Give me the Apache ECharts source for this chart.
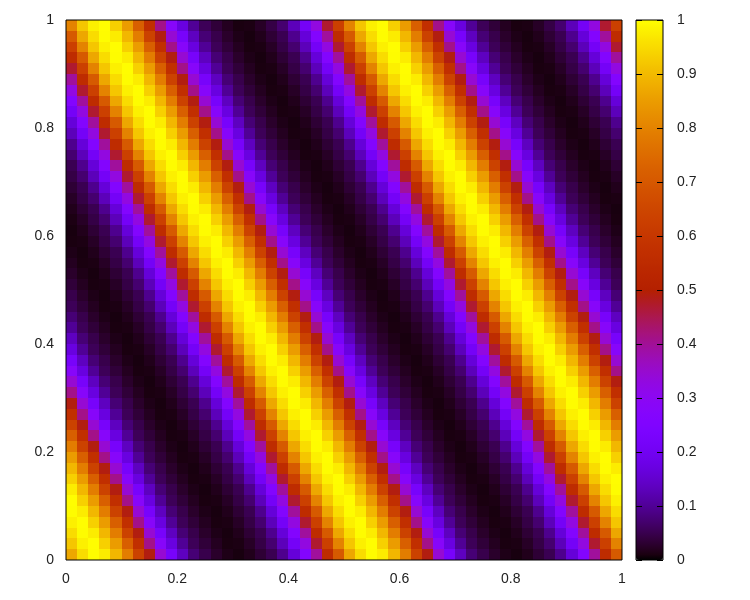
<!DOCTYPE html>
<html>
<head>
<meta charset="utf-8">
<style>html,body{margin:0;background:#fff}#chart{width:750px;height:600px}</style>
<script src="https://cdn.jsdelivr.net/npm/echarts@6/dist/echarts.min.js"></script>
</head>
<body>
<div id="chart"></div>
<script>
// values, in thousandths, top row first
const heatRows = [
[800,918,980,998,935,850,720,570,410,280,170,100,56,36,20,10,12,24,44,72,130,210,330,470,630,800,918,980,998,935,850,720,570,410,280,170,100,56,36,20,10,12,24,44,72,130,210,330,470,630],
[705,868,952,996,975,895,790,635,490,345,222,136,76,48,27,14,9,17,33,52,94,162,265,395,555,705,868,952,996,975,895,790,635,490,345,222,136,76,48,27,14,9,17,33,52,94,162,265,395,555],
[630,800,918,980,998,935,850,720,570,410,280,170,100,56,36,20,10,12,24,44,72,130,210,330,470,630,800,918,980,998,935,850,720,570,410,280,170,100,56,36,20,10,12,24,44,72,130,210,330,470],
[555,705,868,952,996,975,895,790,635,490,345,222,136,76,48,27,14,9,17,33,52,94,162,265,395,555,705,868,952,996,975,895,790,635,490,345,222,136,76,48,27,14,9,17,33,52,94,162,265,395],
[470,630,800,918,980,998,935,850,720,570,410,280,170,100,56,36,20,10,12,24,44,72,130,210,330,470,630,800,918,980,998,935,850,720,570,410,280,170,100,56,36,20,10,12,24,44,72,130,210,330],
[395,555,705,868,952,996,975,895,790,635,490,345,222,136,76,48,27,14,9,17,33,52,94,162,265,395,555,705,868,952,996,975,895,790,635,490,345,222,136,76,48,27,14,9,17,33,52,94,162,265],
[330,470,630,800,918,980,998,935,850,720,570,410,280,170,100,56,36,20,10,12,24,44,72,130,210,330,470,630,800,918,980,998,935,850,720,570,410,280,170,100,56,36,20,10,12,24,44,72,130,210],
[265,395,555,705,868,952,996,975,895,790,635,490,345,222,136,76,48,27,14,9,17,33,52,94,162,265,395,555,705,868,952,996,975,895,790,635,490,345,222,136,76,48,27,14,9,17,33,52,94,162],
[210,330,470,630,800,918,980,998,935,850,720,570,410,280,170,100,56,36,20,10,12,24,44,72,130,210,330,470,630,800,918,980,998,935,850,720,570,410,280,170,100,56,36,20,10,12,24,44,72,130],
[162,265,395,555,705,868,952,996,975,895,790,635,490,345,222,136,76,48,27,14,9,17,33,52,94,162,265,395,555,705,868,952,996,975,895,790,635,490,345,222,136,76,48,27,14,9,17,33,52,94],
[130,210,330,470,630,800,918,980,998,935,850,720,570,410,280,170,100,56,36,20,10,12,24,44,72,130,210,330,470,630,800,918,980,998,935,850,720,570,410,280,170,100,56,36,20,10,12,24,44,72],
[94,162,265,395,555,705,868,952,996,975,895,790,635,490,345,222,136,76,48,27,14,9,17,33,52,94,162,265,395,555,705,868,952,996,975,895,790,635,490,345,222,136,76,48,27,14,9,17,33,52],
[72,130,210,330,470,630,800,918,980,998,935,850,720,570,410,280,170,100,56,36,20,10,12,24,44,72,130,210,330,470,630,800,918,980,998,935,850,720,570,410,280,170,100,56,36,20,10,12,24,44],
[52,94,162,265,395,555,705,868,952,996,975,895,790,635,490,345,222,136,76,48,27,14,9,17,33,52,94,162,265,395,555,705,868,952,996,975,895,790,635,490,345,222,136,76,48,27,14,9,17,33],
[44,72,130,210,330,470,630,800,918,980,998,935,850,720,570,410,280,170,100,56,36,20,10,12,24,44,72,130,210,330,470,630,800,918,980,998,935,850,720,570,410,280,170,100,56,36,20,10,12,24],
[33,52,94,162,265,395,555,705,868,952,996,975,895,790,635,490,345,222,136,76,48,27,14,9,17,33,52,94,162,265,395,555,705,868,952,996,975,895,790,635,490,345,222,136,76,48,27,14,9,17],
[24,44,72,130,210,330,470,630,800,918,980,998,935,850,720,570,410,280,170,100,56,36,20,10,12,24,44,72,130,210,330,470,630,800,918,980,998,935,850,720,570,410,280,170,100,56,36,20,10,12],
[17,33,52,94,162,265,395,555,705,868,952,996,975,895,790,635,490,345,222,136,76,48,27,14,9,17,33,52,94,162,265,395,555,705,868,952,996,975,895,790,635,490,345,222,136,76,48,27,14,9],
[12,24,44,72,130,210,330,470,630,800,918,980,998,935,850,720,570,410,280,170,100,56,36,20,10,12,24,44,72,130,210,330,470,630,800,918,980,998,935,850,720,570,410,280,170,100,56,36,20,10],
[9,17,33,52,94,162,265,395,555,705,868,952,996,975,895,790,635,490,345,222,136,76,48,27,14,9,17,33,52,94,162,265,395,555,705,868,952,996,975,895,790,635,490,345,222,136,76,48,27,14],
[10,12,24,44,72,130,210,330,470,630,800,918,980,998,935,850,720,570,410,280,170,100,56,36,20,10,12,24,44,72,130,210,330,470,630,800,918,980,998,935,850,720,570,410,280,170,100,56,36,20],
[14,9,17,33,52,94,162,265,395,555,705,868,952,996,975,895,790,635,490,345,222,136,76,48,27,14,9,17,33,52,94,162,265,395,555,705,868,952,996,975,895,790,635,490,345,222,136,76,48,27],
[20,10,12,24,44,72,130,210,330,470,630,800,918,980,998,935,850,720,570,410,280,170,100,56,36,20,10,12,24,44,72,130,210,330,470,630,800,918,980,998,935,850,720,570,410,280,170,100,56,36],
[27,14,9,17,33,52,94,162,265,395,555,705,868,952,996,975,895,790,635,490,345,222,136,76,48,27,14,9,17,33,52,94,162,265,395,555,705,868,952,996,975,895,790,635,490,345,222,136,76,48],
[36,20,10,12,24,44,72,130,210,330,470,630,800,918,980,998,935,850,720,570,410,280,170,100,56,36,20,10,12,24,44,72,130,210,330,470,630,800,918,980,998,935,850,720,570,410,280,170,100,56],
[48,27,14,9,17,33,52,94,162,265,395,555,705,868,952,996,975,895,790,635,490,345,222,136,76,48,27,14,9,17,33,52,94,162,265,395,555,705,868,952,996,975,895,790,635,490,345,222,136,76],
[56,36,20,10,12,24,44,72,130,210,330,470,630,800,918,980,998,935,850,720,570,410,280,170,100,56,36,20,10,12,24,44,72,130,210,330,470,630,800,918,980,998,935,850,720,570,410,280,170,100],
[76,48,27,14,9,17,33,52,94,162,265,395,555,705,868,952,996,975,895,790,635,490,345,222,136,76,48,27,14,9,17,33,52,94,162,265,395,555,705,868,952,996,975,895,790,635,490,345,222,136],
[100,56,36,20,10,12,24,44,72,130,210,330,470,630,800,918,980,998,935,850,720,570,410,280,170,100,56,36,20,10,12,24,44,72,130,210,330,470,630,800,918,980,998,935,850,720,570,410,280,170],
[136,76,48,27,14,9,17,33,52,94,162,265,395,555,705,868,952,996,975,895,790,635,490,345,222,136,76,48,27,14,9,17,33,52,94,162,265,395,555,705,868,952,996,975,895,790,635,490,345,222],
[170,100,56,36,20,10,12,24,44,72,130,210,330,470,630,800,918,980,998,935,850,720,570,410,280,170,100,56,36,20,10,12,24,44,72,130,210,330,470,630,800,918,980,998,935,850,720,570,410,280],
[222,136,76,48,27,14,9,17,33,52,94,162,265,395,555,705,868,952,996,975,895,790,635,490,345,222,136,76,48,27,14,9,17,33,52,94,162,265,395,555,705,868,952,996,975,895,790,635,490,345],
[280,170,100,56,36,20,10,12,24,44,72,130,210,330,470,630,800,918,980,998,935,850,720,570,410,280,170,100,56,36,20,10,12,24,44,72,130,210,330,470,630,800,918,980,998,935,850,720,570,410],
[345,222,136,76,48,27,14,9,17,33,52,94,162,265,395,555,705,868,952,996,975,895,790,635,490,345,222,136,76,48,27,14,9,17,33,52,94,162,265,395,555,705,868,952,996,975,895,790,635,490],
[410,280,170,100,56,36,20,10,12,24,44,72,130,210,330,470,630,800,918,980,998,935,850,720,570,410,280,170,100,56,36,20,10,12,24,44,72,130,210,330,470,630,800,918,980,998,935,850,720,570],
[490,345,222,136,76,48,27,14,9,17,33,52,94,162,265,395,555,705,868,952,996,975,895,790,635,490,345,222,136,76,48,27,14,9,17,33,52,94,162,265,395,555,705,868,952,996,975,895,790,635],
[570,410,280,170,100,56,36,20,10,12,24,44,72,130,210,330,470,630,800,918,980,998,935,850,720,570,410,280,170,100,56,36,20,10,12,24,44,72,130,210,330,470,630,800,918,980,998,935,850,720],
[635,490,345,222,136,76,48,27,14,9,17,33,52,94,162,265,395,555,705,868,952,996,975,895,790,635,490,345,222,136,76,48,27,14,9,17,33,52,94,162,265,395,555,705,868,952,996,975,895,790],
[720,570,410,280,170,100,56,36,20,10,12,24,44,72,130,210,330,470,630,800,918,980,998,935,850,720,570,410,280,170,100,56,36,20,10,12,24,44,72,130,210,330,470,630,800,918,980,998,935,850],
[790,635,490,345,222,136,76,48,27,14,9,17,33,52,94,162,265,395,555,705,868,952,996,975,895,790,635,490,345,222,136,76,48,27,14,9,17,33,52,94,162,265,395,555,705,868,952,996,975,895],
[850,720,570,410,280,170,100,56,36,20,10,12,24,44,72,130,210,330,470,630,800,918,980,998,935,850,720,570,410,280,170,100,56,36,20,10,12,24,44,72,130,210,330,470,630,800,918,980,998,935],
[895,790,635,490,345,222,136,76,48,27,14,9,17,33,52,94,162,265,395,555,705,868,952,996,975,895,790,635,490,345,222,136,76,48,27,14,9,17,33,52,94,162,265,395,555,705,868,952,996,975],
[935,850,720,570,410,280,170,100,56,36,20,10,12,24,44,72,130,210,330,470,630,800,918,980,998,935,850,720,570,410,280,170,100,56,36,20,10,12,24,44,72,130,210,330,470,630,800,918,980,998],
[975,895,790,635,490,345,222,136,76,48,27,14,9,17,33,52,94,162,265,395,555,705,868,952,996,975,895,790,635,490,345,222,136,76,48,27,14,9,17,33,52,94,162,265,395,555,705,868,952,996],
[998,935,850,720,570,410,280,170,100,56,36,20,10,12,24,44,72,130,210,330,470,630,800,918,980,998,935,850,720,570,410,280,170,100,56,36,20,10,12,24,44,72,130,210,330,470,630,800,918,980],
[996,975,895,790,635,490,345,222,136,76,48,27,14,9,17,33,52,94,162,265,395,555,705,868,952,996,975,895,790,635,490,345,222,136,76,48,27,14,9,17,33,52,94,162,265,395,555,705,868,952],
[980,998,935,850,720,570,410,280,170,100,56,36,20,10,12,24,44,72,130,210,330,470,630,800,918,980,998,935,850,720,570,410,280,170,100,56,36,20,10,12,24,44,72,130,210,330,470,630,800,918],
[952,996,975,895,790,635,490,345,222,136,76,48,27,14,9,17,33,52,94,162,265,395,555,705,868,952,996,975,895,790,635,490,345,222,136,76,48,27,14,9,17,33,52,94,162,265,395,555,705,868],
[918,980,998,935,850,720,570,410,280,170,100,56,36,20,10,12,24,44,72,130,210,330,470,630,800,918,980,998,935,850,720,570,410,280,170,100,56,36,20,10,12,24,44,72,130,210,330,470,630,800],
[868,952,996,975,895,790,635,490,345,222,136,76,48,27,14,9,17,33,52,94,162,265,395,555,705,868,952,996,975,895,790,635,490,345,222,136,76,48,27,14,9,17,33,52,94,162,265,395,555,705]
];
const xCells = heatRows[0].map((_, i) => i);
const yCells = heatRows.map((_, i) => i);
const xTickStep = 0.2;
const yTickStep = 0.2;
const barTickStep = 0.1;

// gnuplot's default pm3d palette (rgbformulae 7,5,15)
const palette = [];
for (let i = 0; i <= 128; i++) {
  const t = i / 128;
  const r = Math.round(255 * Math.sqrt(t));
  const g = Math.round(255 * t * t * t);
  const b = Math.round(255 * Math.max(0, Math.sin(2 * Math.PI * t)));
  palette.push(`rgb(${r},${g},${b})`);
}

const cells = [];
heatRows.forEach((row, i) => {
  row.forEach((v, j) => cells.push([j, heatRows.length - 1 - i, v / 1000]));
});

// cell edges snapped to whole pixels, otherwise white seams show between rects
function renderCell(params, api) {
  const c = api.coord([api.value(0), api.value(1)]);
  const s = api.size([1, 1]);
  const x0 = Math.round(c[0] - s[0] / 2);
  const x1 = Math.round(c[0] + s[0] / 2);
  const y0 = Math.round(c[1] - s[1] / 2);
  const y1 = Math.round(c[1] + s[1] / 2);
  return {
    type: 'rect',
    shape: { x: x0, y: y0, width: x1 - x0, height: y1 - y0 },
    style: { fill: api.visual('color') }
  };
}

const labelStyle = { color: '#222', fontSize: 14, fontFamily: 'Liberation Sans' };
const tick = { show: true, inside: true, length: 6, lineStyle: { color: '#000', width: 1 } };

const chart = echarts.init(document.getElementById('chart'));
chart.setOption({
  animation: false,
  backgroundColor: '#fff',
  grid: [
    { left: 66, top: 20, width: 556, height: 540, show: true, z: 5, borderColor: '#000', borderWidth: 1, backgroundColor: 'transparent' },
    { left: 636, top: 20, width: 27, height: 540, show: true, z: 5, borderColor: '#000', borderWidth: 1, backgroundColor: 'transparent' }
  ],
  xAxis: [
    { type: 'category', gridIndex: 0, data: xCells, show: false },
    { type: 'value', gridIndex: 0, min: 0, max: 1, interval: xTickStep, position: 'bottom',
      axisLine: { show: false }, axisTick: { show: false }, splitLine: { show: false },
      axisLabel: { margin: 12, ...labelStyle } },
    { type: 'value', gridIndex: 1, min: 0, max: 1, show: false }
  ],
  yAxis: [
    { type: 'category', gridIndex: 0, data: yCells, show: false },
    { type: 'value', gridIndex: 0, min: 0, max: 1, interval: yTickStep, position: 'left',
      axisLine: { show: false }, axisTick: { show: false }, splitLine: { show: false },
      axisLabel: { margin: 12, padding: [2, 0, 0, 0], ...labelStyle } },
    { type: 'value', gridIndex: 1, min: 0, max: 1, interval: barTickStep, position: 'left', z: 6,
      axisLine: { show: false }, axisTick: tick, splitLine: { show: false }, axisLabel: { show: false } },
    { type: 'value', gridIndex: 1, min: 0, max: 1, interval: barTickStep, position: 'right', z: 6,
      axisLine: { show: false }, axisTick: tick, splitLine: { show: false },
      axisLabel: { margin: 14, padding: [2, 0, 0, 0], ...labelStyle } }
  ],
  visualMap: {
    type: 'continuous',
    seriesIndex: 0,
    dimension: 2,
    min: 0,
    max: 1,
    left: 636,
    top: 20,
    padding: 0,
    itemWidth: 27,
    itemHeight: 540,
    text: null,
    showLabel: false,
    calculable: false,
    hoverLink: false,
    inRange: { color: palette }
  },
  series: [{
    type: 'custom',
    xAxisIndex: 0,
    yAxisIndex: 0,
    coordinateSystem: 'cartesian2d',
    renderItem: renderCell,
    data: cells,
    encode: { x: 0, y: 1 },
    progressive: 0,
    silent: true,
    z: 2
  }]
});
</script>
</body>
</html>
